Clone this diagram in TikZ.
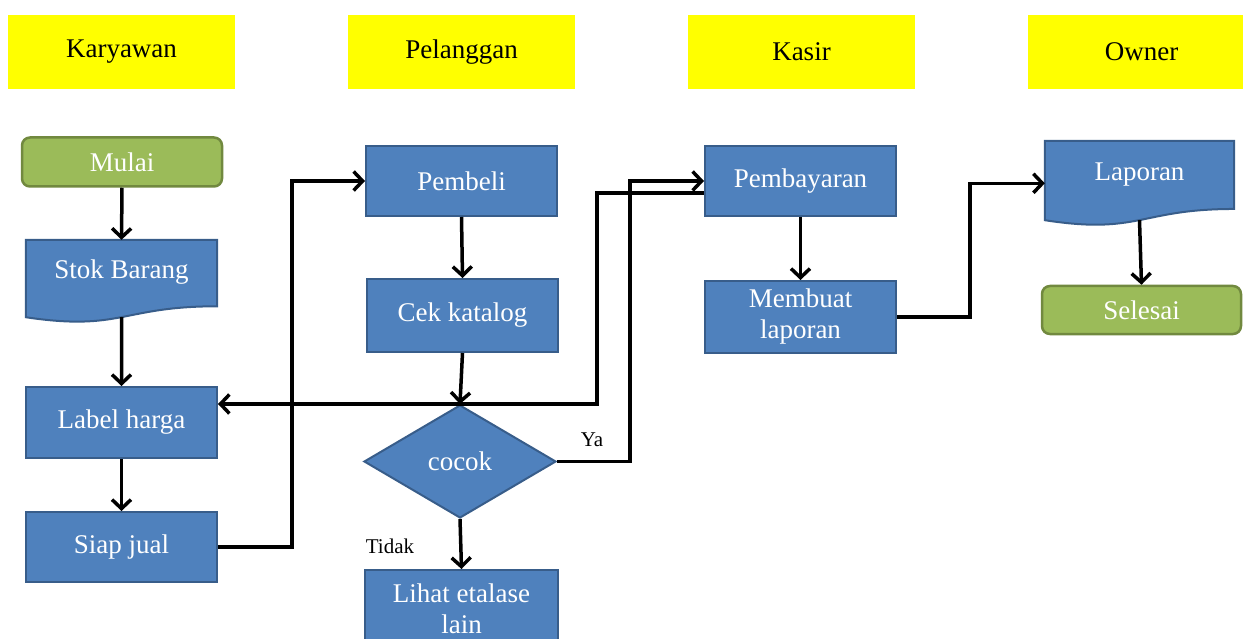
\documentclass[tikz,border=0pt]{standalone}
\usepackage{fontspec}
\setmainfont{Liberation Serif}
\usetikzlibrary{arrows.meta,calc,shapes.geometric,backgrounds}
\definecolor{boxblue}{HTML}{4F81BD}
\definecolor{boxedge}{HTML}{385D8A}
\definecolor{termgreen}{HTML}{9BBB59}
\definecolor{termedge}{HTML}{71893F}
\definecolor{hdryellow}{HTML}{FFFF00}
\begin{document}
\begin{tikzpicture}[x=1pt,y=-1pt,
  font=\fontsize{27}{31}\selectfont,
  hdr/.style={fill=hdryellow, minimum width=227pt, minimum height=74pt, inner sep=0pt, text=black},
  proc/.style={draw=boxedge, line width=2pt, fill=boxblue, text=white, minimum width=191pt, inner sep=0pt, align=center},
  term/.style={draw=termedge, line width=2.5pt, fill=termgreen, text=white, rounded corners=8pt, inner sep=0pt},
  docnode/.style={inner sep=0pt, text=white, text height=17pt, text depth=22pt},
  docline/.style={draw=boxedge, line width=2pt, fill=boxblue},
  arr/.style={line width=3.5pt, line join=miter, -{Straight Barb[length=9pt,width=19pt]}},
  lbl/.style={font=\fontsize{21}{24}\selectfont, text=black, inner sep=0pt}]
\useasboundingbox (0,0) rectangle (1243,639);

% headers
\node[hdr] (hkar) at (121.5,52) {Karyawan};
\node[hdr] (hpel) at (461.5,52) {Pelanggan};
\node[hdr] (hkas) at (801.5,52) {Kasir};
\node[hdr] (hown) at (1141.5,52) {Owner};

% Karyawan lane
\node[term, minimum width=200pt, minimum height=49pt] (mulai) at (122,162) {Mulai};
\node[docnode, minimum width=191pt, minimum height=82.5pt] (stok) at (121.5,281.25) {Stok Barang};
\node[proc, minimum height=71pt] (label) at (121.5,422.5) {Label harga};
\node[proc, minimum height=70pt] (siap) at (121.5,547) {Siap jual};

% Pelanggan lane
\node[proc, minimum height=70pt] (pembeli) at (461.5,181) {Pembeli};
\node[proc, minimum height=73pt] (cek) at (462.5,315.5) {Cek katalog};
\node[diamond, draw=boxedge, fill=boxblue, line width=2pt, minimum width=192pt, minimum height=113pt, inner sep=0pt, text=white] (cocok) at (460,461.5) {cocok};
\node[proc, minimum width=193pt, minimum height=78pt] (lihat) at (461.5,609) {Lihat etalase\\lain};

% Kasir lane
\node[proc, minimum height=70pt] (pemb) at (800.5,181) {Pembayaran};
\node[proc, minimum height=72pt] (membuat) at (800.5,317) {Membuat\\laporan};

% Owner lane
\node[docnode, minimum width=189pt, minimum height=84.6pt] (laporan) at (1139.5,183.3) {Laporan};
\node[term, minimum width=199pt, minimum height=48pt] (selesai) at (1141.5,310) {Selesai};

% document shapes
\begin{scope}[on background layer]
\path[docline] (stok.north west) -- (stok.north east) -- ($(stok.north east)!0.802!(stok.south east)$)
  .. controls ($(stok.north)!0.802!(stok.south)$) and ($(stok.north)!1.107!(stok.south)$) .. ($(stok.north west)!0.934!(stok.south west)$) -- cycle;
\path[docline] (laporan.north west) -- (laporan.north east) -- ($(laporan.north east)!0.802!(laporan.south east)$)
  .. controls ($(laporan.north)!0.802!(laporan.south)$) and ($(laporan.north)!1.107!(laporan.south)$) .. ($(laporan.north west)!0.934!(laporan.south west)$) -- cycle;
\end{scope}
\coordinate (stokb) at ($(stok.north)!0.933!(stok.south)$);
\coordinate (lapb) at ($(laporan.north)!0.933!(laporan.south)$);

% connectors
\draw[arr] (mulai.south) -- (stok.north);
\draw[arr] (stokb) -- (label.north);
\draw[arr] (label.south) -- (siap.north);
\draw[arr] (siap.east) -- ++(74,0) |- (pembeli.west);
\draw[arr] (pembeli.south) -- (cek.north);
\draw[arr] (cek.south) -- (cocok.north);
\draw[arr] ([yshift=-12pt]pemb.west) -- ++(-107,0) |- ([yshift=18.5pt]label.east);
\draw[arr] (cocok.east) -- ++(73,0) |- (pemb.west);
\draw[arr] (cocok.south) -- (lihat.north);
\draw[arr] (pemb.south) -- (membuat.north);
\draw[arr] (membuat.east) -- ++(73,0) |- (laporan.west);
\draw[arr] (lapb) -- (selesai.north);

\node[lbl] (ya) at (592,440) {Ya};
\node[lbl] (tidak) at (390,546) {Tidak};
\end{tikzpicture}
\end{document}
